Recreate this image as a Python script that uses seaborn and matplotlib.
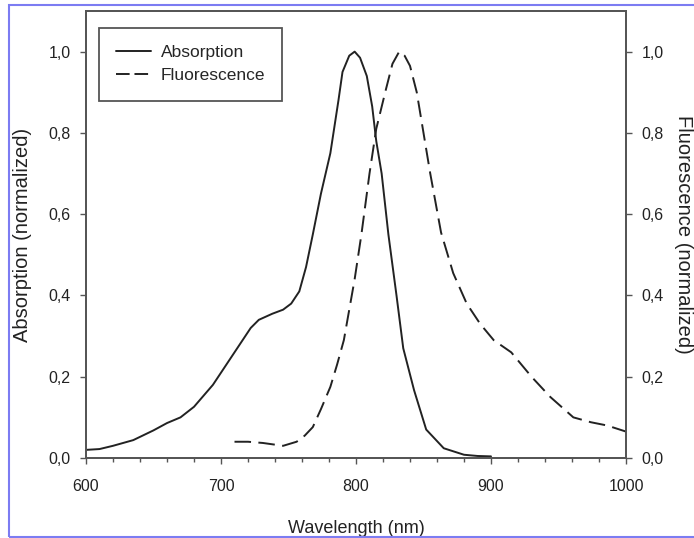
import matplotlib
matplotlib.use("Agg")
import matplotlib.pyplot as plt
import seaborn as sns
from matplotlib.lines import Line2D
from matplotlib.patches import Rectangle

# absorption spectrum
abs_wl = [600, 610, 620, 635, 650, 660, 670, 680, 694, 704, 714, 722, 728, 738, 746, 752, 758,
          763, 768, 774, 781, 787, 790, 795, 799, 803, 808, 812, 815, 819, 824, 830, 835, 843,
          852, 865, 880, 890, 900]
abs_val = [0.02, 0.022, 0.03, 0.044, 0.068, 0.086, 0.10, 0.126, 0.18, 0.23, 0.28, 0.32, 0.34, 0.355, 0.365, 0.38, 0.41,
           0.47, 0.55, 0.65, 0.75, 0.88, 0.95, 0.99, 1.0, 0.985, 0.94, 0.865, 0.78, 0.70, 0.55, 0.40, 0.27, 0.167,
           0.07, 0.024, 0.008, 0.005, 0.004]

# fluorescence spectrum
fl_wl = [710, 720, 731, 746, 756, 762, 768, 774, 781, 786, 791, 799, 804, 810, 815, 822, 827, 832,
         836, 840, 845, 850, 855, 863, 872, 882, 892, 902, 915, 930, 944, 961, 974, 986, 1000]
fl_val = [0.04, 0.04, 0.037, 0.03, 0.04, 0.055, 0.076, 0.12, 0.175, 0.23, 0.29, 0.44, 0.55, 0.70, 0.81, 0.905, 0.97, 1.0,
          0.99, 0.965, 0.90, 0.80, 0.70, 0.555, 0.455, 0.38, 0.33, 0.29, 0.26, 0.20, 0.15, 0.10, 0.088, 0.08, 0.065]

xticks = [600, 700, 800, 900, 1000]
yticks = [0.0, 0.2, 0.4, 0.6, 0.8, 1.0]
ytick_labels = ["0,0", "0,2", "0,4", "0,6", "0,8", "1,0"]

sns.set_style("ticks")
plt.rcParams['font.family'] = ['Liberation Sans', 'DejaVu Sans']

ink = "#222222"
spine = "#555555"

fig = plt.figure(figsize=(6.94, 5.38), dpi=100)
ax = fig.add_axes([86 / 694, 1 - 458 / 538, 540 / 694, 447 / 538])
ax2 = ax.twinx()

sns.lineplot(x=abs_wl, y=abs_val, ax=ax, color=ink, linewidth=1.4)
sns.lineplot(x=fl_wl, y=fl_val, ax=ax2, color=ink, linewidth=1.4)
ax2.lines[0].set_dashes([8.5, 3.8])

for a in (ax, ax2):
    a.set_xlim(600, 1000)
    a.set_ylim(0, 1.10)
    a.set_yticks(yticks)
    a.set_yticklabels(ytick_labels)
    for s in a.spines.values():
        s.set_visible(True)
        s.set_color(spine)
        s.set_linewidth(1.3)
    a.tick_params(colors=spine, labelcolor=ink, labelsize=11.5, length=4, width=1)

ax.set_xticks(xticks)
ax.set_xticks(range(600, 1001, 20), minor=True)
ax.tick_params(axis="x", which="minor", length=3, width=1, colors=spine)
ax.tick_params(axis="x", pad=11)
ax.tick_params(axis="y", pad=7)
ax2.tick_params(axis="y", pad=7)

ax.set_xlabel("Wavelength (nm)", fontsize=13, color=ink, labelpad=19)
ax.set_ylabel("Absorption (normalized)", fontsize=14.5, color=ink, labelpad=12)
ax2.set_ylabel("Fluorescence (normalized)", fontsize=14.5, color=ink, rotation=270, va="center")
ax2.yaxis.set_label_coords((684 - 86) / 540, 0.5)

handles = [Line2D([], [], color=ink, linewidth=1.4),
           Line2D([], [], color=ink, linewidth=1.4, dashes=[7, 2.5])]
leg = ax.legend(handles, ["Absorption", "Fluorescence"], loc="upper left",
                bbox_to_anchor=(0.024, 0.962), borderaxespad=0, fancybox=False, fontsize=12.5,
                handlelength=2.0, handletextpad=0.55, borderpad=1.0, labelspacing=0.45,
                framealpha=1)
leg.get_frame().set_edgecolor(spine)
leg.get_frame().set_linewidth(1.3)

# screenshot frame
fig.patches.append(Rectangle((9 / 694, 1 / 538), 1.0, 532 / 538, transform=fig.transFigure,
                             fill=False, edgecolor="#7c7cf2", linewidth=1.5))

fig.savefig("out.png", dpi=100)
